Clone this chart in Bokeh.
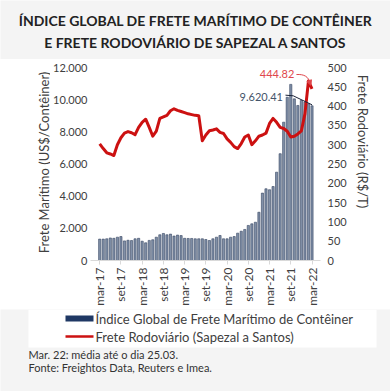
import math
from bokeh.plotting import figure
from bokeh.models import Range1d, LinearAxis, FixedTicker, Label, Spacer, Arrow, NormalHead
from bokeh.layouts import column, row
from bokeh.embed import file_html
from bokeh.resources import INLINE
from bokeh.core.properties import value

FONT = "Lato"
BG = "#f4f4f4"
NAVY = "#1f3864"
BAR_FILL = "#8190a8"
BAR_LINE = "#34435f"
RED = "#cc1111"
TXT = "#404040"

title_lines = ["ÍNDICE GLOBAL DE FRETE MARÍTIMO DE CONTÊINER",
               "E FRETE RODOVIÁRIO DE SAPEZAL A SANTOS"]

# monthly, mar-17 .. mar-22
bar_values = [1330, 1330, 1350, 1400, 1380, 1450, 1490, 1220, 1260, 1240,
              1350, 1380, 1200, 1100, 1250, 1290, 1450, 1600, 1680, 1600, 1640, 1520,
              1580, 1550, 1380, 1370, 1370, 1350, 1350, 1350, 1306, 1244, 1350, 1450,
              1555, 1350, 1350, 1450, 1490, 1700, 1820, 1930, 2180, 2280, 2380, 3000,
              4190, 4460, 4400, 4600, 5490, 6640, 8600, 10150, 10950, 10050, 9640, 9950,
              9850, 9750, 9620.41]
road_values = [302, 290, 279, 276, 272, 300, 318, 330, 334, 331,
               326, 345, 358, 366, 345, 322, 335, 368, 372, 376, 388, 393,
               389, 386, 383, 380, 378, 376, 375, 310, 325, 336, 338, 341,
               332, 329, 315, 306, 295, 290, 303, 320, 325, 300, 310, 322,
               325, 330, 355, 368, 358, 345, 342, 335, 320, 322, 328, 336,
               380, 465, 444.82]

x_tick_labels = ["mar-17", "set-17", "mar-18", "set-18", "mar-19", "set-19",
                 "mar-20", "set-20", "mar-21", "set-21", "mar-22"]
left_ticks = [0, 2000, 4000, 6000, 8000, 10000, 12000]
left_tick_labels = ["0", "2.000", "4.000", "6.000", "8.000", "10.000", "12.000"]
right_ticks = [0, 50, 100, 150, 200, 250, 300, 350, 400, 450, 500]
left_axis_title = "Frete Marítimo (US$/Contêiner)"
right_axis_title = "Frete Rodoviário (R$/T)"

legend_labels = ["Índice Global de Frete Marítimo de Contêiner",
                 "Frete Rodoviário (Sapezal a Santos)"]
notes = ["Mar. 22: média até o dia 25.03.",
         "Fonte: Freightos Data, Reuters e Imea."]
bar_note = "9.620.41"
road_note = "444.82"

idx = list(range(len(bar_values)))
last = idx[-1]

W = 390
H_MAIN = 250
FT, FH = 8, 193            # frame top / height inside the main row
FB = H_MAIN - FT - FH

def blank(w, h, bg, xr, yr, top=0, bottom=0):
    f = figure(width=w, height=h, x_range=Range1d(*xr), y_range=Range1d(*yr),
               output_backend="svg", toolbar_location=None,
               x_axis_type=None, y_axis_type=None, min_border=0,
               min_border_top=top, min_border_bottom=bottom,
               outline_line_color=None, background_fill_color=bg,
               border_fill_color=bg)
    f.xgrid.visible = False
    f.ygrid.visible = False
    return f

# ---- title
t = blank(W, 59, BG, (0, W), (59, 0))
t.text(x=[195, 195], y=[20, 42], text=title_lines, text_align="center",
       text_baseline="middle", text_font=value(FONT), text_font_style="bold",
       text_font_size="14px", text_color="#222222")

# ---- axis titles (narrow white strips either side of the chart);
# y data = pixel row inside the main row
lf = blank(22, H_MAIN, "white", (0, 22), (FT + FH, FT), FT, FB)
lf.text(x=[15], y=[103], text=[left_axis_title], angle=math.pi / 2,
        text_align="center", text_baseline="middle", text_font=value(FONT),
        text_font_size="13px", text_color=TXT)
rf = blank(26, H_MAIN, "white", (0, 26), (FT + FH, FT), FT, FB)
rf.text(x=[12], y=[82], text=[right_axis_title], angle=-math.pi / 2,
        text_align="center", text_baseline="middle", text_font=value(FONT),
        text_font_size="13px", text_color=TXT)

# ---- main chart
PW = 300
FL, FW = 38, 232
XR = (-2.6, 62.4)
YR = (0, 12000)
p = figure(width=PW, height=H_MAIN, x_range=Range1d(*XR),
           y_range=Range1d(*YR), output_backend="svg", toolbar_location=None,
           min_border_left=FL, min_border_right=PW - FL - FW, min_border_top=FT,
           min_border_bottom=FB, outline_line_color=None,
           background_fill_color="white", border_fill_color="white")
p.xgrid.visible = False
p.ygrid.visible = False
p.extra_y_ranges = {"road": Range1d(0, 500)}

p.vbar(x=idx, top=bar_values, width=0.62, fill_color=BAR_FILL,
       line_color=BAR_LINE, line_width=0.6)
p.line(x=idx, y=road_values, y_range_name="road", line_color=RED,
       line_width=3, line_join="round")

xa = p.xaxis[0]
xa.ticker = FixedTicker(ticks=[i * 6 for i in range(len(x_tick_labels))])
xa.major_label_overrides = {i * 6: s for i, s in enumerate(x_tick_labels)}
xa.major_label_orientation = math.pi / 2
xa.axis_line_color = "#d9d9d9"
xa.major_tick_line_color = "#d9d9d9"
xa.major_tick_in = 0
xa.major_tick_out = 4
xa.minor_tick_line_color = None
xa.minor_tick_out = 0
xa.major_label_standoff = 3

ya = p.yaxis[0]
ya.ticker = FixedTicker(ticks=left_ticks)
ya.major_label_overrides = {v: s for v, s in zip(left_ticks, left_tick_labels)}

ra = LinearAxis(y_range_name="road", ticker=FixedTicker(ticks=right_ticks))
p.add_layout(ra, "right")

for ax in [xa, ya, ra]:
    ax.major_label_text_font = FONT
    ax.major_label_text_font_size = "11px"
    ax.major_label_text_color = TXT
    ax.axis_label_standoff = 0
xa.major_label_text_font_size = "12px"
for ax in [ya, ra]:
    ax.axis_line_color = None
    ax.major_tick_line_color = None
    ax.minor_tick_line_color = None
    ax.major_tick_in = 0
    ax.major_tick_out = 0
    ax.minor_tick_in = 0
    ax.minor_tick_out = 0
ya.major_label_standoff = 3
ra.major_label_standoff = 7

# annotation: last bar
lb = bar_values[-1]
p.add_layout(Label(x=last - 8.2, y=lb + 540, text=bar_note, text_align="right",
                   text_baseline="middle", text_font=FONT, text_font_size="11px",
                   text_color="#44546a"))
p.line(x=[last - 7.5, last - 5.3, last], y=[lb + 660, lb + 620, lb + 60],
       line_color="#1a2238", line_width=1)

# annotation: last road value
lr = road_values[-1]
p.add_layout(Label(x=last - 5.0, y=lr + 38, y_range_name="road", text=road_note,
                   text_align="right", text_baseline="middle", text_font=FONT,
                   text_font_size="11px", text_color="#e0474c"))
p.bezier(x0=[last - 4.4], y0=[lr + 37], x1=[last - 0.5], y1=[lr + 14],
         cx0=[last - 2.2], cy0=[lr + 38], cx1=[last - 1.0], cy1=[lr + 32],
         y_range_name="road", line_color="#e0474c", line_width=1)
p.add_layout(Arrow(end=NormalHead(size=5, fill_color="#e0474c", line_color="#e0474c"),
                   x_start=last - 0.6, y_start=lr + 16, x_end=last - 0.3, y_end=lr + 9,
                   y_range_name="road", line_color="#e0474c", line_width=1))

# ---- legend + footnotes (bottom strip)
bt = blank(W, 82, BG, (0, W), (82, 0))
bt.quad(left=[28], right=[376], top=[0], bottom=[38], fill_color="white",
        line_color=None)
bt.rect(x=[79], y=[9], width=28, height=6, fill_color=NAVY, line_color=None)
bt.line(x=[65, 93], y=[27, 27], line_color=RED, line_width=2.5)
bt.text(x=[95, 95], y=[9, 27], text=legend_labels, text_align="left",
        text_baseline="middle", text_font=value(FONT), text_font_size="13px",
        text_color=TXT)
bt.text(x=[28, 28], y=[45, 58], text=notes, text_align="left",
        text_baseline="middle", text_font=value(FONT), text_font_size="11px",
        text_color="#333333")

layout = column(t,
                row(Spacer(width=28, height=H_MAIN), lf, p, rf,
                    Spacer(width=14, height=H_MAIN)),
                bt)

html = file_html(layout, INLINE)
html = html.replace("<body>", '<body style="background:%s;">' % BG, 1)
open("out.html", "w").write(html)
